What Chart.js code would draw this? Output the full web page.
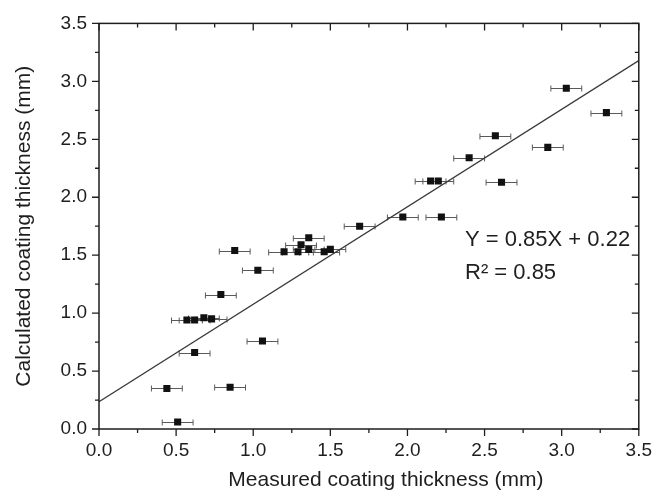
<!DOCTYPE html>
<html>
<head>
<meta charset="utf-8">
<script src="https://cdn.jsdelivr.net/npm/chart.js@4/dist/chart.umd.min.js"></script>
<style>
  html, body { margin: 0; padding: 0; background: #fff; }
  #wrap { width: 662px; height: 491px; }
</style>
</head>
<body>
<div id="wrap"><canvas id="chart1" width="662" height="491"></canvas></div>
<script>
// measured (x) vs calculated (y) coating thickness, mm
var measured   = [0.51, 0.44, 0.85, 0.62, 1.06, 0.57, 0.62, 0.68, 0.73, 0.79,
                  1.03, 0.88, 1.20, 1.29, 1.36, 1.31, 1.36, 1.46, 1.50, 1.69,
                  1.97, 2.22, 2.15, 2.20, 2.61, 2.40, 2.91, 2.57, 3.03, 3.29];
var calculated = [0.06, 0.35, 0.36, 0.66, 0.76, 0.94, 0.94, 0.96, 0.95, 1.16,
                  1.37, 1.54, 1.53, 1.53, 1.55, 1.59, 1.65, 1.53, 1.55, 1.75,
                  1.83, 1.83, 2.14, 2.14, 2.13, 2.34, 2.43, 2.53, 2.94, 2.73];
var xError     = [0.1, 0.1, 0.1, 0.1, 0.1, 0.1, 0.1, 0.1, 0.1, 0.1,
                  0.1, 0.1, 0.1, 0.1, 0.1, 0.1, 0.1, 0.1, 0.1, 0.1,
                  0.1, 0.1, 0.1, 0.1, 0.1, 0.1, 0.1, 0.1, 0.1, 0.1];
// fit line end points, Y = 0.85X + 0.22
var fitX = [0, 3.5];
var fitY = [0.235, 3.18];
var tickValues = [0, 0.5, 1.0, 1.5, 2.0, 2.5, 3.0, 3.5];
var xTitle = 'Measured coating thickness (mm)';
var yTitle = 'Calculated coating thickness (mm)';
var fitLabel = 'Y = 0.85X + 0.22';
var r2Label = 'R² = 0.85';

var ink = '#1e1e1e';
var family = '"Liberation Sans", Arial, sans-serif';

let points = measured.map((x, i) => ({x: x, y: calculated[i], err: xError[i]}));
let fitLine = fitX.map((x, i) => ({x: x, y: fitY[i]}));

// horizontal error bars, drawn under the markers
const errorBars = {
  id: 'errorBars',
  beforeDatasetsDraw(chart) {
    const ctx = chart.ctx, xs = chart.scales.x, ys = chart.scales.y;
    ctx.save();
    ctx.strokeStyle = '#5a5a5a';
    ctx.lineWidth = 1;
    points.forEach(p => {
      let x0 = xs.getPixelForValue(p.x - p.err);
      let x1 = xs.getPixelForValue(p.x + p.err);
      let y = Math.round(ys.getPixelForValue(p.y)) + 0.5;
      ctx.beginPath();
      ctx.moveTo(x0, y); ctx.lineTo(x1, y);
      ctx.moveTo(x0, y - 3); ctx.lineTo(x0, y + 3);
      ctx.moveTo(x1, y - 3); ctx.lineTo(x1, y + 3);
      ctx.stroke();
    });
    ctx.restore();
  }
};

// box frame, major/minor ticks (outside on bottom/left, inside on top/right), titles, fit text
const frame = {
  id: 'frame',
  afterDraw(chart) {
    const ctx = chart.ctx, a = chart.chartArea, xs = chart.scales.x, ys = chart.scales.y;
    ctx.save();
    ctx.strokeStyle = ink;
    ctx.lineWidth = 1.5;
    ctx.strokeRect(a.left, a.top, a.right - a.left, a.bottom - a.top);
    ctx.lineWidth = 1.3;
    ctx.beginPath();
    for (let v = 0; v <= 3.5001; v += 0.25) {
      let major = Math.abs(v * 2 - Math.round(v * 2)) < 1e-6;
      let len = major ? 7 : 4;
      let px = xs.getPixelForValue(v);
      let py = ys.getPixelForValue(v);
      ctx.moveTo(px, a.bottom); ctx.lineTo(px, a.bottom + len);
      ctx.moveTo(px, a.top); ctx.lineTo(px, a.top + len);
      ctx.moveTo(a.left, py); ctx.lineTo(a.left - len, py);
      ctx.moveTo(a.right, py); ctx.lineTo(a.right - len, py);
    }
    ctx.stroke();

    ctx.fillStyle = ink;
    ctx.font = '21px ' + family;
    ctx.textAlign = 'center';
    ctx.textBaseline = 'middle';
    ctx.fillText(xTitle, (a.left + a.right) / 2 + 17, 480);
    ctx.save();
    ctx.translate(24, (a.top + a.bottom) / 2);
    ctx.rotate(-Math.PI / 2);
    ctx.fillText(yTitle, 0, 0);
    ctx.restore();

    ctx.font = '22px ' + family;
    ctx.textAlign = 'left';
    ctx.textBaseline = 'alphabetic';
    ctx.fillText(fitLabel, 465, 246);
    ctx.fillText(r2Label, 465, 279);
    ctx.restore();
  }
};

let config = {
  type: 'scatter',
  data: {
    datasets: [{
      label: 'fit',
      type: 'line',
      data: fitLine,
      borderColor: '#3a3a3a',
      borderWidth: 1.4,
      pointRadius: 0,
      fill: false,
      order: 2
    }, {
      label: 'data',
      data: points,
      pointStyle: 'rect',
      pointRadius: 5,
      pointBackgroundColor: '#111',
      pointBorderColor: '#111',
      pointBorderWidth: 0,
      order: 1
    }]
  },
  options: {
    responsive: false,
    devicePixelRatio: 1,
    animation: false,
    layout: { padding: { top: 19, right: 21, left: 0, bottom: 0 } },
    plugins: {
      legend: { display: false },
      tooltip: { enabled: false }
    },
    scales: {
      x: {
        type: 'linear',
        min: 0, max: 3.5,
        afterBuildTicks: s => { s.ticks = tickValues.map(v => ({value: v})); },
        afterFit: s => { s.height = 62; },
        grid: { display: false, drawTicks: false },
        border: { display: false },
        ticks: {
          padding: 10,
          color: ink,
          font: { family: family, size: 19 },
          callback: v => v.toFixed(1)
        }
      },
      y: {
        type: 'linear',
        min: 0, max: 3.5,
        afterBuildTicks: s => { s.ticks = tickValues.map(v => ({value: v})); },
        afterFit: s => { s.width = 99; },
        grid: { display: false, drawTicks: false },
        border: { display: false },
        ticks: {
          padding: 12,
          color: ink,
          font: { family: family, size: 19 },
          callback: v => v.toFixed(1)
        }
      }
    }
  },
  plugins: [errorBars, frame]
};

let chart1 = new Chart(document.getElementById('chart1'), config);
</script>
</body>
</html>
